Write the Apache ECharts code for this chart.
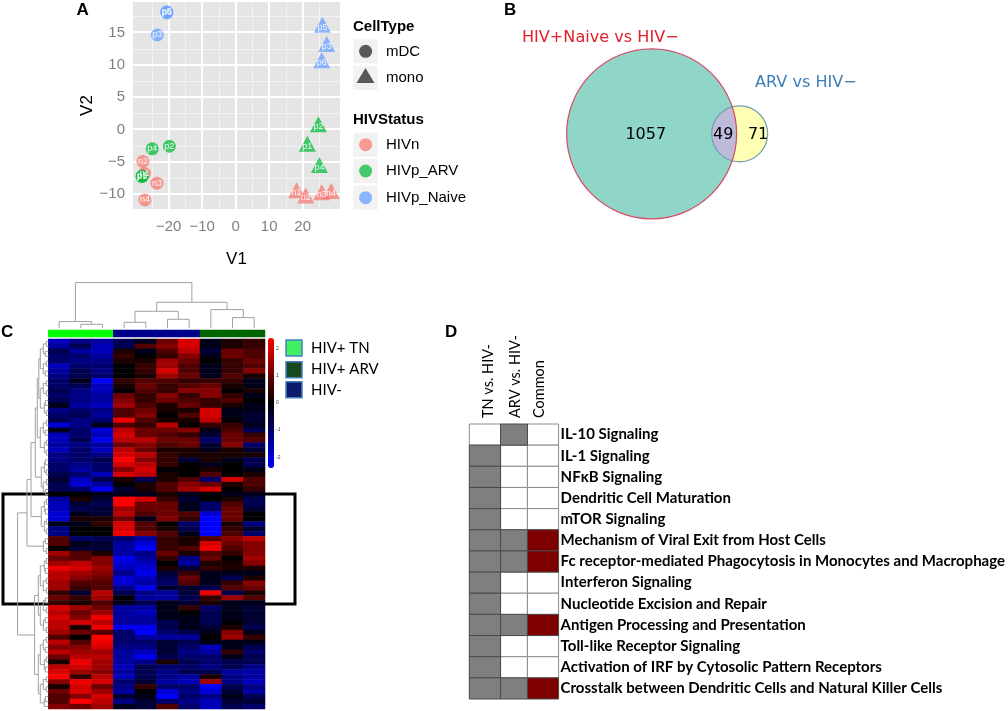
<!DOCTYPE html>
<html><head><meta charset="utf-8">
<style>html,body{margin:0;padding:0;background:#fff}#c{width:1008px;height:711px}</style>
<script src="https://cdn.jsdelivr.net/npm/echarts@6/dist/echarts.min.js"></script>
</head><body><div id="c"></div>
<script>
// ---------- Panel A data ----------
const mdcHIVn=[[-27.2,-6.8,'n1'],[-27.7,-4.95,'n2'],[-23.5,-8.3,'n3'],[-27.1,-10.9,'n4']];
const mdcARV=[[-28,-7.3,'p1'],[-19.8,-2.6,'p2'],[-27.8,-7.2,'p3'],[-24.9,-3,'p4']];
const mdcNaive=[[-23.4,14.6,'p3'],[-20.6,18.2,'p5'],[-20.5,18,'p6']];
const monoHIVn=[[18.2,-9.4,'n1'],[20.9,-10.2,'n2'],[25.7,-9.7,'n3'],[28.5,-9.5,'n4']];
const monoARV=[[21.4,-2.2,'p1'],[24.7,0.8,'p2'],[25,-5.5,'p4']];
const monoNaive=[[25.9,16.2,'p5'],[27.2,13.2,'p3'],[25.7,10.7,'p6']];
const xMajor=[-20,-10,0,10,20], xMinor=[-25,-15,-5,5,15,25];
const yMajor=[-10,-5,0,5,10,15], yMinor=[-7.5,-2.5,2.5,7.5,12.5,17.5];
// ---------- Panel B data ----------
const vennOnlyNaive=1057, vennShared=49, vennOnlyARV=71, vennCentreDistance=19.43;
// ---------- Panel C data (row by row, in quarter units of the colour scale) ----------
const heatRows=[
[-7,-5,-6,-3,-1,4,8,-1,1,2],[-6,-3,-7,-3,3,5,8,-1,1,2],[-3,-6,-7,1,-1,3,7,-2,4,3],[-4,-4,-6,2,0,2,5,-1,4,3],
[-4,-5,-5,1,1,6,4,0,2,4],[-7,-4,-4,0,2,6,3,-1,2,3],[-6,-3,-5,0,2,8,3,-1,2,5],[-5,-3,-4,0,1,6,4,-1,3,1],
[-4,-1,-10,2,3,3,2,2,2,-1],[-4,-3,-7,1,4,2,3,4,1,-1],[-3,-5,-7,0,3,2,5,5,0,1],[-4,-5,-6,4,2,5,2,5,2,-1],
[-3,-5,-6,5,2,4,3,2,3,0],[-1,-6,-7,6,3,1,4,2,1,-1],[-5,-4,-5,3,4,1,1,8,-1,-1],[-4,-3,-6,3,5,0,3,8,-1,-2],
[-3,-5,-4,9,3,1,1,7,0,-2],[-8,-5,-1,3,2,7,0,2,2,-1],[-1,-4,-8,7,4,4,5,-1,3,-3],[-7,-4,-7,8,4,3,2,-2,4,2],
[-7,-3,-9,7,7,4,4,-4,4,3],[-6,-5,-6,4,5,3,4,-2,5,-4],[-7,-4,-7,7,4,1,1,-1,1,-2],[-5,-4,-5,8,7,2,1,1,1,1],
[-5,-4,-3,10,5,2,-2,1,-1,-3],[-4,-5,-4,8,7,2,0,-1,0,-3],[-4,-6,-4,5,8,0,0,1,0,-1],[-3,-4,-7,8,7,1,0,3,0,1],
[-2,-7,-3,1,-3,1,3,-4,8,3],[-3,-8,-6,0,1,3,5,4,1,3],[-3,-4,-9,-2,1,3,6,8,0,2],[0,0,-1,-1,-1,1,-1,0,-1,-1],
[-6,1,-2,10,8,2,-2,0,1,-3],[-7,-2,-3,10,4,4,-1,-4,3,-3],[-7,-3,-2,6,4,4,-1,-4,4,-2],[-8,-1,-2,7,3,4,3,-8,4,0],
[-8,1,1,4,-1,5,2,-10,4,0],[-1,-1,2,8,3,0,-4,-10,1,-5],[-5,0,0,8,3,1,-3,-10,2,-2],[-5,0,0,9,5,3,-1,-10,3,-4],
[3,-4,-3,-4,-6,2,1,3,5,7],[3,-1,-2,-6,-8,2,1,8,4,5],[0,-2,-2,-6,-10,2,3,9,3,5],[6,3,1,-6,-5,4,1,3,2,5],
[4,3,5,-9,-6,2,-5,4,0,6],[6,7,5,-8,-7,0,-6,1,1,5],[9,8,6,-7,-8,1,-2,2,1,1],[7,6,5,-5,-9,-2,2,-1,-1,-1],
[7,5,4,-8,-7,-3,4,-1,-3,1],[6,3,3,-8,-6,-4,3,-1,2,5],[6,2,3,-5,-9,-2,-2,-3,3,4],[2,-2,7,-3,-5,-6,-2,9,-3,1],
[4,2,6,0,-6,-6,-3,2,6,3],[2,1,3,-1,-3,-1,-2,1,-1,-1],[8,6,4,-6,-6,-1,2,-4,-1,-2],[7,4,6,-6,-7,-1,0,-3,-1,-2],
[8,5,9,-6,-6,-1,-1,-3,-1,-2],[7,8,7,-6,-6,-3,-1,-3,0,-2],[7,1,9,-9,-9,-3,-1,-2,1,-3],[6,4,3,-4,-10,-4,-3,-1,5,-1],
[3,0,10,-4,-6,-6,-6,0,6,2],[7,3,9,-4,-4,-2,-3,-1,-1,-1],[5,5,8,-5,-5,-2,-4,-7,-1,-3],[7,6,6,-6,-7,-2,-5,-6,2,-4],
[4,7,7,-6,-9,-3,-4,-4,-1,-3],[1,9,6,-6,-5,1,-3,-4,-3,-3],[7,8,6,-7,-3,-4,-4,-5,-3,-5],[8,6,5,-6,-3,-5,-3,-3,-6,-6],
[10,2,7,-7,-3,-5,-6,1,-5,-6],[5,9,8,-4,-2,-6,-7,6,-5,-7],[1,8,4,-5,2,-4,-4,-10,-3,-5],[4,8,6,-6,0,-8,-5,-8,-2,-6],
[3,5,8,-2,-1,-10,-4,-5,-1,-3],[3,10,7,-5,-2,-4,-5,-7,-2,-2],[5,4,6,-1,-2,3,-4,-7,-3,-4]];
const columnGroups=['TN','TN','TN','NEG','NEG','NEG','NEG','ARV','ARV','ARV'];
const colorTicks=[-2,-1,0,1,2];
const colDendro=[[1.5,2.5,4,0,0],[0.5,2,6.7,0,4],[3.5,4.5,6,0,0],[5.5,6.5,9,0,0],[4,6,17,6,9],[8.5,9.5,10.7,0,0],[7.5,9,18.7,0,10.7],[5,8.25,26,17,18.7],[1.25,6.625,45.7,6.7,26]];
const rowLeafHeights=[2,3,2,3,2,2,3,2,2,3,2,2,3,2,2,3,2,3,2,2,3,2,2,3,2,2,3,2,3,2,2,3,2,3,2,2,3];
const rowPairHeights=[5,5,5,4,5,4,4,5,4,4,5,4,5,5,5,5,4,5];
const rowUpperDendro=[[73,74.5,4,3,0],[2,6,8,5,5],[10,14,8,5,4],[18,22,8,5,4],[26,30,7,4,5],[34,38,7,4,5],[46,50,8,4,5],[54,58,8,5,5],[62,66,8,5,4],[70,73.75,8,5,4],
[4,12,9.5,8,8],[8,20,11,9.5,8],[14,28,13,11,7],[21,36,17.3,13,7],[28.5,42,21.3,17.3,5],[48,56,10,8,8],[64,71.9,10,8,8],[52,68,13.7,10,10],[35.25,60,30.7,21.3,13.7]];
// ---------- Panel D data ----------
const pathways=['IL-10 Signaling','IL-1 Signaling','NFκB Signaling','Dendritic Cell Maturation','mTOR Signaling','Mechanism of Viral Exit from Host Cells','Fc receptor-mediated Phagocytosis in Monocytes and Macrophage','Interferon Signaling','Nucleotide Excision and Repair','Antigen Processing and Presentation','Toll-like Receptor Signaling','Activation of IRF by Cytosolic Pattern Receptors','Crosstalk between Dendritic Cells and Natural Killer Cells'];
const tableStates=[[0,1,0],[1,0,0],[1,0,0],[1,0,0],[1,0,0],[1,1,2],[1,1,2],[1,0,0],[1,0,0],[1,1,2],[1,0,0],[1,0,0],[1,1,2]];
const tableEdges=[0,31.4,58.4,89.7];

// ---------- build ----------
const RED='#F8766D',GREEN='#00BA38',BLUE='#619CFF',SANS='"Liberation Sans",Arial,sans-serif',LAB='Lato,"Open Sans",sans-serif';
const minus=v=>String(v).replace('-','−');
const grids=[],xAxes=[],yAxes=[],series=[];
function hiddenValue(min,max,extra){return Object.assign({type:'value',min,max,show:false,scale:true},extra||{});}
function addGrid(x,y,w,h,xa,ya,extra){const i=grids.length;grids.push(Object.assign({left:x,top:y,width:w,height:h,containLabel:false},extra||{}));
  const xi=xAxes.length;xAxes.push(Object.assign({gridIndex:i},xa));const yi=yAxes.length;yAxes.push(Object.assign({gridIndex:i},ya));return {i,xi,yi};}

// Panel A
const X_MIN=-30.65,X_MAX=31.15,Y_MIN=-12.3,Y_MAX=19.7;
const tickStyle={show:true,length:5,lineStyle:{color:'#7F7F7F',width:1}};
const pa=addGrid(133,2,207,207,
 {type:'value',min:X_MIN,max:X_MAX,axisLine:{show:false},axisTick:Object.assign({customValues:xMajor},tickStyle),
  axisLabel:{customValues:xMajor,color:'#7F7F7F',fontFamily:SANS,fontSize:15,margin:10,formatter:minus},
  splitLine:{show:false},name:'V1',nameLocation:'middle',nameGap:42,nameTextStyle:{fontFamily:SANS,fontSize:17,color:'#000'}},
 {type:'value',min:Y_MIN,max:Y_MAX,axisLine:{show:false},axisTick:Object.assign({customValues:yMajor},tickStyle),
  axisLabel:{customValues:yMajor,color:'#7F7F7F',fontFamily:SANS,fontSize:15,margin:8,formatter:minus},
  splitLine:{show:false},name:'V2',nameLocation:'middle',nameGap:36,nameTextStyle:{fontFamily:SANS,fontSize:17,color:'#000'}},
 {show:true,backgroundColor:'#E5E5E5',borderWidth:0});
const gridLineData=[];
xMinor.forEach(v=>gridLineData.push([v,0,1]));yMinor.forEach(v=>gridLineData.push([v,1,1]));
xMajor.forEach(v=>gridLineData.push([v,0,2]));yMajor.forEach(v=>gridLineData.push([v,1,2]));
series.push({type:'custom',xAxisIndex:pa.xi,yAxisIndex:pa.yi,silent:true,z:1,clip:true,data:gridLineData,renderItem(p,api){
  const v=api.value(0),vert=api.value(1)===0,w=api.value(2);
  const a=vert?api.coord([v,Y_MIN]):api.coord([X_MIN,v]),b=vert?api.coord([v,Y_MAX]):api.coord([X_MAX,v]);
  const o=w===2?0:0.5, rx=u=>Math.round(u)+o;
  const s=vert?{x1:rx(a[0]),y1:a[1],x2:rx(a[0]),y2:b[1]}:{x1:a[0],y1:rx(a[1]),x2:b[0],y2:rx(a[1])};
  return {type:'line',shape:s,style:{stroke:w===2?'#FFFFFF':'#F3F3F3',lineWidth:w===2?2:1}};
}});
function scatter(data,color,sym){series.push({type:'scatter',xAxisIndex:pa.xi,yAxisIndex:pa.yi,data,symbol:sym,symbolSize:sym==='triangle'?[17,16]:13,
  itemStyle:{color,opacity:0.72},label:{show:true,position:'inside',offset:sym==='triangle'?[0,2.5]:[0,0],formatter:p=>p.value[2],color:'#fff',fontSize:9,fontFamily:SANS,opacity:0.9},silent:true,clip:false});}
scatter(mdcHIVn,RED,'circle');scatter(mdcARV,GREEN,'circle');scatter(mdcNaive,BLUE,'circle');
scatter(monoHIVn,RED,'triangle');scatter(monoARV,GREEN,'triangle');scatter(monoNaive,BLUE,'triangle');

// Panel B
const vennBig=vennOnlyNaive+vennShared, vennSmall=vennOnlyARV+vennShared;
const R1=Math.sqrt(vennBig/Math.PI),R2=Math.sqrt(vennSmall/Math.PI),D=vennCentreDistance;
const pb=addGrid(551.98,34.14,226.5,199.3,hiddenValue(-22,28),hiddenValue(-22,22));
series.push({type:'custom',xAxisIndex:pb.xi,yAxisIndex:pb.yi,clip:false,silent:true,data:[[0,0]],renderItem(p,api){
  const c1=api.coord([0,0]),c2=api.coord([D,0]),sc=api.size([1,0])[0];
  const a=(D*D+R1*R1-R2*R2)/(2*D),hh=Math.sqrt(R1*R1-a*a),t1=Math.atan2(hh,a),t2=Math.atan2(hh,a-D),pts=[];
  for(let i=0;i<=40;i++){const t=-t1+2*t1*i/40;pts.push(api.coord([R1*Math.cos(t),R1*Math.sin(t)]));}
  for(let i=0;i<=40;i++){const t=t2+(2*Math.PI-2*t2)*i/40;pts.push(api.coord([D+R2*Math.cos(t),R2*Math.sin(t)]));}
  const txt=(v,x)=>({type:'text',style:{text:String(v),x:api.coord([x,0])[0],y:c1[1]+1,fill:'#000',font:'16px "DejaVu Sans"',textAlign:'center',textVerticalAlign:'middle'}});
  return {type:'group',children:[
   {type:'circle',shape:{cx:c1[0],cy:c1[1],r:R1*sc},style:{fill:'#8FD6C8'}},
   {type:'circle',shape:{cx:c2[0],cy:c2[1],r:R2*sc},style:{fill:'#FFFFB3'}},
   {type:'polygon',shape:{points:pts},style:{fill:'#BEBADA'}},
   {type:'circle',shape:{cx:c2[0],cy:c2[1],r:R2*sc},style:{fill:'none',stroke:'#6F9FB5',lineWidth:1.2}},
   {type:'circle',shape:{cx:c1[0],cy:c1[1],r:R1*sc},style:{fill:'none',stroke:'#D94A63',lineWidth:1.2}},
   txt(vennOnlyNaive,-1.3),txt(vennShared,15.8),txt(vennOnlyARV,23.5)]};
}});

// Panel C
function dendro(g,data,horizontal){series.push({type:'custom',xAxisIndex:g.xi,yAxisIndex:g.yi,clip:false,silent:true,data,encode:{x:0,y:1},renderItem(p,api){
  const a=api.value(0),b=api.value(1),h=api.value(2),ha=api.value(3),hb=api.value(4);
  const P=(pos,ht)=>api.coord(horizontal?[pos,ht]:[ht,pos]);
  return {type:'polyline',shape:{points:[P(a,ha),P(a,h),P(b,h),P(b,hb)]},style:{fill:'none',stroke:'#A0A0A0',lineWidth:1}};
}});}
const pcd=addGrid(48.3,268.3,216.7,60,hiddenValue(0,10),hiddenValue(0,60));
dendro(pcd,colDendro,true);
const columnIdx=columnGroups.map((_,i)=>String(i));
const groupColor={TN:'#00FF00',NEG:'#00008B',ARV:'#006400'};
const pan=addGrid(48.3,330,216.7,7,{type:'category',data:columnIdx,show:false},{type:'category',data:['group'],show:false});
series.push({type:'heatmap',xAxisIndex:pan.xi,yAxisIndex:pan.yi,silent:true,data:columnGroups.map((g,i)=>({value:[i,0,1],itemStyle:{color:groupColor[g]}}))});
const rowIdx=heatRows.map((_,i)=>String(i));
const ph=addGrid(48.3,339,216.7,370,{type:'category',data:columnIdx,show:false},{type:'category',data:rowIdx,inverse:true,show:false});
const heatIndex=series.length;
const heatData=[];heatRows.forEach((r,ri)=>r.forEach((v,ci)=>heatData.push([ci,ri,v/4])));
series.push({type:'heatmap',xAxisIndex:ph.xi,yAxisIndex:ph.yi,silent:true,data:heatData,progressive:0});
const prd=addGrid(0,339,48.3,370,hiddenValue(0,48.3,{inverse:true}),hiddenValue(0,75,{inverse:true}));
const rowMerges=[];
rowLeafHeights.forEach((h,k)=>rowMerges.push([2*k+0.5,2*k+1.5,h,0,0]));
rowPairHeights.forEach((h,j)=>rowMerges.push([4*j+1,4*j+3,h,rowLeafHeights[2*j],rowLeafHeights[2*j+1]]));
dendro(prd,rowMerges.concat(rowUpperDendro),false);
const pk=addGrid(274,338,1,130,{type:'value',min:0,max:1,show:false},
 {type:'value',min:-2.4,max:2.4,position:'right',axisLine:{show:false},splitLine:{show:false},axisTick:{show:false,customValues:colorTicks},
  axisLabel:{customValues:colorTicks,fontSize:5,color:'#444',margin:1,fontFamily:SANS}});

// Panel D
const tableCells=[];tableStates.forEach((r,ri)=>r.forEach((s,ci)=>tableCells.push([ci,ri,s])));
const pd=addGrid(469.3,424,89.7,275,{type:'value',min:0,max:89.7,show:false},
 {type:'category',data:pathways,inverse:true,position:'right',axisLine:{show:false},axisTick:{show:false},splitLine:{show:false},
  axisLabel:{interval:0,color:'#000',fontFamily:LAB,fontWeight:700,fontSize:15,margin:2,align:'left',padding:[5,0,0,0]}});
const cellFill=['#FFFFFF','#7F7F7F','#7F0000'];
series.push({type:'custom',xAxisIndex:pd.xi,yAxisIndex:pd.yi,clip:false,silent:true,data:tableCells,encode:{x:0,y:1},renderItem(p,api){
  const c=api.value(0),r=api.value(1),s=api.value(2);
  const l=api.coord([tableEdges[c],r]),rr=api.coord([tableEdges[c+1],r]),h=api.size([0,1])[1];
  return {type:'rect',z2:s?2:1,shape:{x:l[0],y:l[1]-h/2,width:rr[0]-l[0],height:h},style:{fill:cellFill[s],stroke:s?'#4A4A4A':'#8C8C8C',lineWidth:1}};
}});

// free text and keys
const T=(text,x,y,font,fill,extra)=>Object.assign({type:'text',x,y,style:{text,font,fill:fill||'#000',textAlign:'left',textVerticalAlign:'middle'}},extra||{});
const B='bold 17px '+SANS;
const keyBox=(y)=>({type:'rect',shape:{x:353.3,y,width:24.4,height:24},style:{fill:'#F2F2F2'}});
const keyDot=(y,c)=>({type:'circle',shape:{cx:365.6,cy:y+12,r:6.5},style:{fill:c,opacity:0.72}});
const graphic=[
 {type:'rect',z:0,shape:{x:3,y:494,width:292,height:110},style:{fill:'none',stroke:'#000',lineWidth:3}},
 T('A',76.5,10,B),T('B',504,10,B),T('C',1,332,B),T('D',445,332.5,B),
 T('CellType',353,27,'bold 15px '+SANS),T('HIVStatus',353,120,'bold 15px '+SANS),
 keyBox(39.3),{type:'circle',shape:{cx:365.6,cy:51.3,r:6.5},style:{fill:'#595959'}},
 keyBox(66),{type:'polygon',shape:{points:[[356.5,83],[374.5,83],[365.5,68]]},style:{fill:'#595959'}},
 keyBox(132.7),keyDot(132.7,RED),keyBox(159),keyDot(159,GREEN),keyBox(185.7),keyDot(185.7,BLUE),
 T('mDC',386,52,'15px '+SANS),T('mono',386,78,'15px '+SANS),T('HIVn',386,145,'15px '+SANS),T('HIVp_ARV',386,171,'15px '+SANS),T('HIVp_Naive',386,198,'15px '+SANS),
 T('HIV+Naive vs HIV−',522,38,'16.1px "DejaVu Sans"','#E3202A'),T('ARV vs HIV−',755,83,'16.1px "DejaVu Sans"','#3A7EB8'),
 {type:'rect',shape:{x:286,y:340,width:16,height:16},style:{fill:'#40F060',stroke:'#4A7EBB',lineWidth:1.5}},
 {type:'rect',shape:{x:286,y:361.7,width:16,height:16},style:{fill:'#174A1C',stroke:'#4A7EBB',lineWidth:1.5}},
 {type:'rect',shape:{x:286,y:381.7,width:16,height:16},style:{fill:'#0B1A6B',stroke:'#4A7EBB',lineWidth:1.5}},
 T('HIV+ TN',311,348,'15px '+LAB),T('HIV+ ARV',311,369,'15px '+LAB),T('HIV-',311,390,'15px '+LAB),
 T('TN vs. HIV-',488,418,'14.5px '+LAB,'#000',{rotation:Math.PI/2}),
 T('ARV vs. HIV-',515,418,'14.5px '+LAB,'#000',{rotation:Math.PI/2}),
 T('Common',539,418,'14.5px '+LAB,'#000',{rotation:Math.PI/2})
];
const chart=echarts.init(document.getElementById('c'),null,{renderer:'canvas'});
chart.setOption({animation:false,backgroundColor:'#fff',grid:grids,xAxis:xAxes,yAxis:yAxes,series,graphic,
 visualMap:{type:'continuous',seriesIndex:heatIndex,min:-2.4,max:2.4,dimension:2,left:268,top:338,itemWidth:6,itemHeight:130,padding:0,calculable:false,hoverLink:false,inRange:{color:['#0000FF','#000000','#FF0000']},textStyle:{fontSize:1}}});
</script></body></html>
